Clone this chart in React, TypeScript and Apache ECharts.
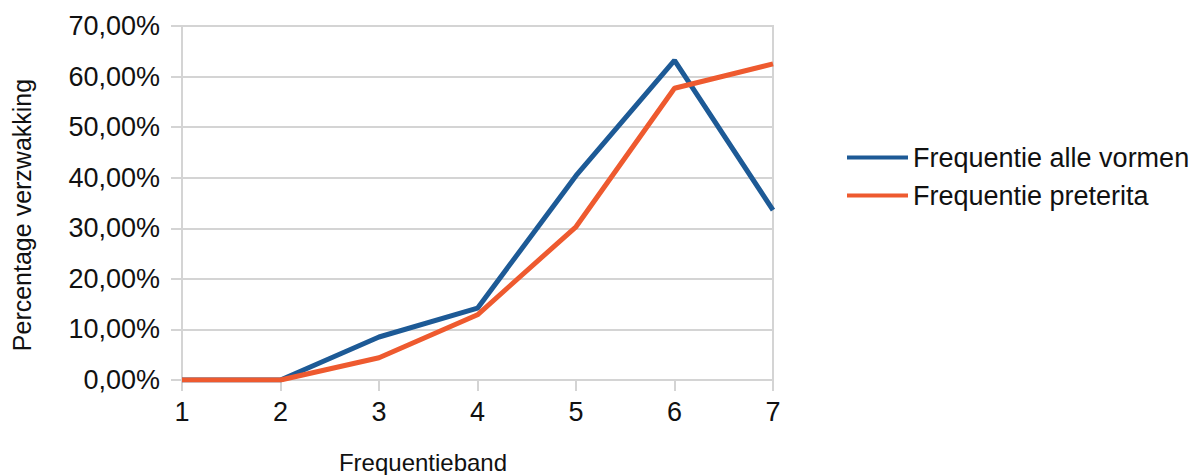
import React, { useEffect, useRef } from "react";
import * as echarts from "echarts";

// Frequency bands on the x axis
const bands = ["1", "2", "3", "4", "5", "6", "7"];

// Percentage of weakening per band
const allForms = [0, 0, 8.5, 14.2, 40.4, 63.2, 33.6];
const preterita = [0, 0, 4.4, 12.9, 30.3, 57.7, 62.5];

const seriesNames = ["Frequentie alle vormen", "Frequentie preterita"];
const seriesColors = ["#1d5a96", "#ee5a2f"];

const yTicks = { min: 0, max: 70, interval: 10 };

const FONT = "'Liberation Sans', Arial, Helvetica, sans-serif";

export default function App() {
  const ref = useRef<HTMLDivElement>(null);

  useEffect(() => {
    if (!ref.current) return;
    const chart = echarts.init(ref.current, null, { renderer: "svg" });
    chart.setOption({
      animation: false,
      backgroundColor: "#ffffff",
      grid: {
        left: 182,
        right: 426,
        top: 26,
        bottom: 95,
        show: true,
        borderColor: "#d4d4d4",
        borderWidth: 2,
        containLabel: false,
      },
      legend: {
        orient: "vertical",
        left: 842,
        top: 139,
        itemWidth: 61,
        itemHeight: 4,
        itemGap: 11,
        icon: "rect",
        textStyle: { fontFamily: FONT, fontSize: 27, color: "#111" },
        data: seriesNames,
      },
      xAxis: {
        type: "category",
        data: bands,
        boundaryGap: false,
        axisLine: { lineStyle: { color: "#d4d4d4", width: 2 } },
        axisTick: { show: true, length: 11, lineStyle: { color: "#d4d4d4", width: 2 } },
        axisLabel: { fontFamily: FONT, fontSize: 27, color: "#111", margin: 18 },
        splitLine: { show: false },
      },
      yAxis: {
        type: "value",
        min: yTicks.min,
        max: yTicks.max,
        interval: yTicks.interval,
        axisLine: { show: true, lineStyle: { color: "#d4d4d4", width: 2 } },
        axisTick: { show: true, length: 11, lineStyle: { color: "#d4d4d4", width: 2 } },
        axisLabel: {
          fontFamily: FONT,
          fontSize: 27,
          color: "#111",
          margin: 22,
          formatter: (v: number) => v.toFixed(2).replace(".", ",") + "%",
        },
        splitLine: { show: true, lineStyle: { color: "#d4d4d4", width: 2 } },
      },
      graphic: [
        {
          type: "text",
          x: 22,
          y: 215,
          rotation: Math.PI / 2,
          style: {
            text: "Percentage verzwakking",
            fontFamily: FONT,
            fontSize: 25,
            fill: "#111",
            align: "center",
            verticalAlign: "middle",
          },
        },
        {
          type: "text",
          x: 423,
          y: 462,
          style: {
            text: "Frequentieband",
            fontFamily: FONT,
            fontSize: 24,
            fill: "#111",
            align: "center",
            verticalAlign: "middle",
          },
        },
      ],
      series: [
        {
          name: seriesNames[0],
          type: "line",
          data: allForms,
          color: seriesColors[0],
          symbol: "none",
          lineStyle: { width: 5, color: seriesColors[0] },
          z: 3,
        },
        {
          name: seriesNames[1],
          type: "line",
          data: preterita,
          color: seriesColors[1],
          symbol: "none",
          lineStyle: { width: 5, color: seriesColors[1] },
          z: 4,
        },
      ],
    });
    return () => chart.dispose();
  }, []);

  return (
    <div
      ref={ref}
      style={{ position: "fixed", left: 0, top: 0, width: 1199, height: 475 }}
    />
  );
}
